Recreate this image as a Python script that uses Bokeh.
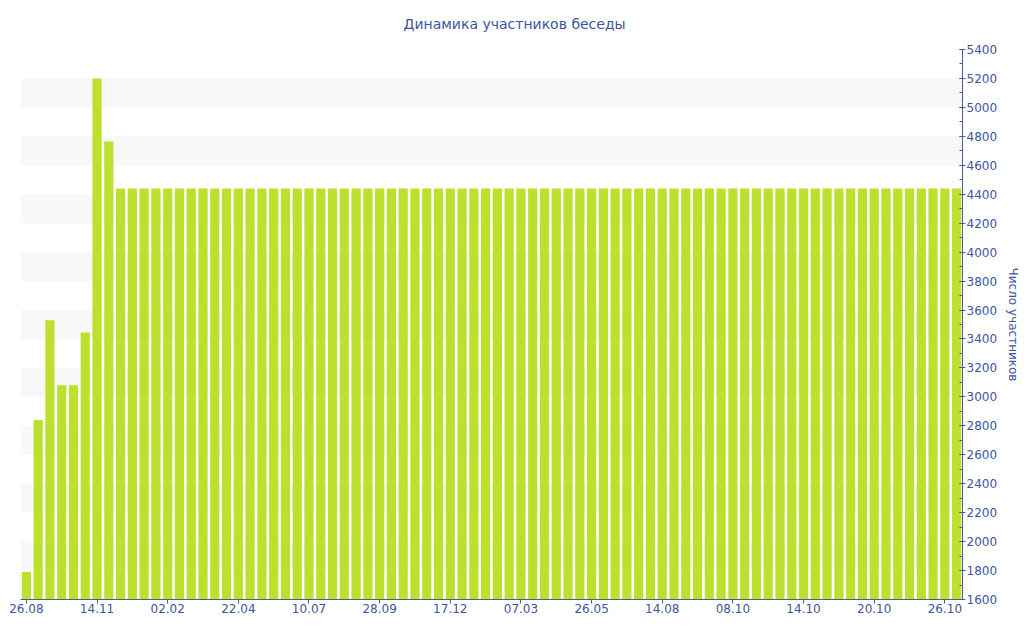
from bokeh.plotting import figure
from bokeh.models import ColumnDataSource, LinearAxis, Range1d, FixedTicker, Title
from bokeh.embed import file_html
from bokeh.resources import INLINE

# Data
values = [1790, 2840, 3530, 3080, 3080, 3445, 5200, 4765,
          4440, 4440, 4440, 4440, 4440, 4440, 4440, 4440, 4440, 4440,
          4440, 4440, 4440, 4440, 4440, 4440, 4440, 4440, 4440, 4440,
          4440, 4440, 4440, 4440, 4440, 4440, 4440, 4440, 4440, 4440,
          4440, 4440, 4440, 4440, 4440, 4440, 4440, 4440, 4440, 4440,
          4440, 4440, 4440, 4440, 4440, 4440, 4440, 4440, 4440, 4440,
          4440, 4440, 4440, 4440, 4440, 4440, 4440, 4440, 4440, 4440,
          4440, 4440, 4440, 4440, 4440, 4440, 4440, 4440, 4440, 4440,
          4440, 4440]
tick_labels = ["26.08", "14.11", "02.02", "22.04", "10.07", "28.09", "17.12",
               "07.03", "26.05", "14.08", "08.10", "14.10", "20.10", "26.10"]
label_step = 6

title_text = "Динамика участников беседы"
y_label = "Число участников"

AXIS = "#4a5b9c"
TEXT = "#3d55a0"
BAR = "#bde02f"
FONT = "DejaVu Sans"

idx = list(range(len(values)))
src = ColumnDataSource(dict(x=idx, top=values))

p = figure(frame_width=942, frame_height=550, output_backend="svg", toolbar_location=None,
           x_range=Range1d(-0.5, len(values) - 0.5), y_range=Range1d(1600, 5400),
           y_axis_location=None, min_border_left=20, min_border_right=0,
           min_border_top=0, min_border_bottom=24)
p.outline_line_color = None
p.background_fill_color = "white"

p.title = Title(text=title_text, align="left", vertical_align="top", text_color=TEXT,
                text_font=FONT, text_font_size="14px", text_font_style="normal",
                offset=383, standoff=31)

p.vbar(x="x", top="top", bottom=1600, width=0.78, source=src,
       fill_color=BAR, line_color=None)

# x axis
xa = p.xaxis[0]
tick_pos = [i * label_step for i in range(len(tick_labels))]
xa.ticker = FixedTicker(ticks=tick_pos)
xa.major_label_overrides = {t: lab for t, lab in zip(tick_pos, tick_labels)}
xa.axis_line_color = AXIS
xa.major_tick_line_color = AXIS
xa.major_tick_in = 0
xa.major_tick_out = 4
xa.minor_tick_line_color = None
xa.major_label_text_color = TEXT
xa.major_label_text_font = FONT
xa.major_label_text_font_size = "12px"
xa.major_label_standoff = 0

# right y axis
ya = LinearAxis(axis_label=y_label)
ya.ticker = FixedTicker(ticks=list(range(1600, 5401, 200)),
                        minor_ticks=list(range(1600, 5401, 100)))
ya.axis_line_color = AXIS
ya.major_tick_line_color = AXIS
ya.minor_tick_line_color = AXIS
ya.major_tick_in = 3
ya.major_tick_out = 3
ya.minor_tick_in = 3
ya.minor_tick_out = 0
ya.major_label_text_color = TEXT
ya.major_label_text_font = FONT
ya.major_label_text_font_size = "12px"
ya.major_label_standoff = 1
ya.axis_label_text_color = TEXT
ya.axis_label_text_font = FONT
ya.axis_label_text_font_size = "12px"
ya.axis_label_text_font_style = "normal"
ya.axis_label_standoff = 6
p.add_layout(ya, "right")

p.xgrid.grid_line_color = None
p.ygrid.grid_line_color = None
p.ygrid.ticker = ya.ticker
p.ygrid.band_fill_color = "#f8f8f8"
p.ygrid.band_fill_alpha = 1.0

open("out.html", "w").write(file_html(p, INLINE))
